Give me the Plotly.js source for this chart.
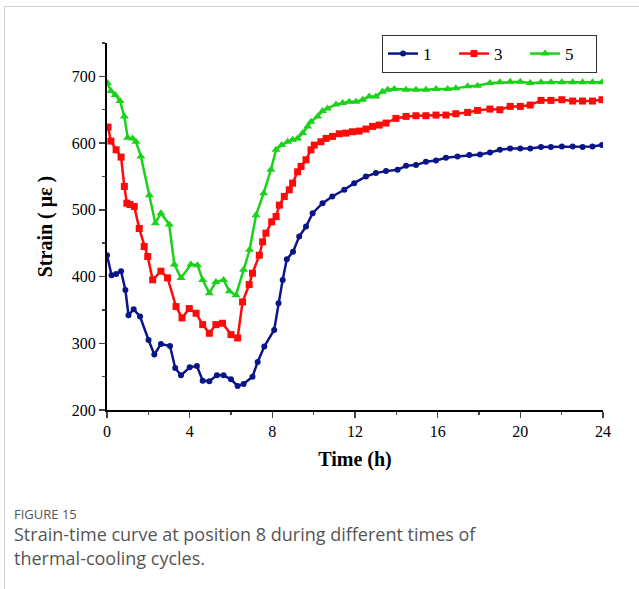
<!DOCTYPE html>
<html>
<head>
<meta charset="utf-8">
<script src="https://cdn.plot.ly/plotly-3.0.1.min.js"></script>
<style>
  html, body { margin: 0; padding: 0; background: #ffffff; }
  #frame { position: absolute; left: 4px; top: 6px; width: 640px; height: 590px;
           border-left: 1px solid #cfcfcf; border-top: 1px solid #cfcfcf; pointer-events: none; }
  #chart { position: absolute; left: 0; top: 0; width: 639px; height: 589px; }
</style>
</head>
<body>
<div id="frame"></div>
<div id="chart"></div>
<script>
// Series "1"
const time1 = [0, 0.22, 0.44, 0.68, 0.89, 1.04, 1.29, 1.6, 2.01, 2.29, 2.61, 3.05, 3.3, 3.58, 4.0, 4.35, 4.63, 4.95, 5.32, 5.64, 6.0, 6.32, 6.61, 7.04, 7.29, 7.61, 8.09, 8.3, 8.5, 8.7, 9.0, 9.3, 9.63, 9.95, 10.43, 10.9, 11.48, 11.96, 12.53, 13.01, 13.5, 14.06, 14.47, 14.95, 15.43, 15.92, 16.4, 16.96, 17.53, 18.05, 18.53, 19.01, 19.51, 20.0, 20.48, 21.0, 21.48, 22.01, 22.53, 23.01, 23.49, 23.95];
const strain1 = [432, 402, 404, 408, 380, 342, 351, 340, 305, 283, 299, 296, 263, 252, 264, 266, 244, 243, 252, 252, 246, 236, 239, 250, 272, 295, 320, 360, 395, 426, 437, 460, 475, 495, 510, 520, 530, 540, 550, 555, 558, 560, 566, 567, 572, 574, 578, 580, 582, 583, 586, 590, 592, 592, 592, 594, 594, 595, 595, 594, 595, 597];
// Series "3"
const time3 = [0.05, 0.19, 0.44, 0.68, 0.84, 0.96, 1.11, 1.32, 1.56, 1.8, 1.97, 2.21, 2.61, 2.93, 3.34, 3.63, 3.98, 4.31, 4.63, 4.95, 5.27, 5.59, 6.0, 6.32, 6.56, 6.88, 7.04, 7.37, 7.53, 7.69, 7.97, 8.18, 8.34, 8.58, 8.82, 8.98, 9.22, 9.39, 9.63, 9.87, 10.03, 10.35, 10.6, 10.91, 11.24, 11.56, 11.88, 12.2, 12.53, 12.85, 13.17, 13.5, 13.98, 14.47, 14.95, 15.43, 15.92, 16.4, 16.88, 17.45, 17.93, 18.53, 19.01, 19.51, 20.0, 20.48, 21.0, 21.48, 22.01, 22.53, 23.01, 23.49, 23.95];
const strain3 = [624, 603, 590, 579, 535, 510, 508, 505, 472, 445, 430, 395, 408, 398, 355, 338, 352, 345, 328, 315, 328, 330, 313, 308, 362, 388, 405, 432, 452, 465, 482, 490, 507, 520, 530, 540, 557, 565, 575, 590, 597, 602, 607, 610, 614, 615, 617, 618, 621, 625, 627, 630, 637, 640, 641, 641, 642, 642, 644, 646, 649, 651, 650, 655, 655, 657, 664, 664, 665, 663, 663, 663, 665];
// Series "5"
const time5 = [0.02, 0.19, 0.4, 0.63, 0.84, 1.0, 1.24, 1.4, 1.64, 2.05, 2.34, 2.61, 3.01, 3.26, 3.58, 4.06, 4.38, 4.63, 4.95, 5.27, 5.64, 5.92, 6.24, 6.61, 6.9, 7.21, 7.58, 7.93, 8.18, 8.45, 8.74, 8.98, 9.22, 9.47, 9.71, 9.87, 10.19, 10.43, 10.67, 11.08, 11.4, 11.72, 12.05, 12.37, 12.69, 13.01, 13.33, 13.58, 13.9, 14.47, 14.95, 15.43, 15.92, 16.48, 16.88, 17.45, 17.93, 18.53, 19.01, 19.51, 20.0, 20.48, 21.0, 21.48, 22.01, 22.53, 23.01, 23.49, 23.95];
const strain5 = [690, 678, 672, 663, 640, 608, 607, 602, 580, 522, 480, 495, 478, 418, 398, 418, 417, 395, 375, 392, 395, 378, 372, 410, 440, 492, 525, 560, 590, 597, 602, 605, 607, 615, 625, 632, 640, 648, 652, 658, 660, 662, 662, 665, 670, 670, 677, 680, 681, 680, 680, 680, 681, 681, 682, 685, 686, 690, 691, 692, 692, 690, 691, 691, 691, 691, 691, 691, 691];

const seriesNames = ["1", "3", "5"];
const xTickVals = [0, 4, 8, 12, 16, 20, 24];
const yTickVals = [200, 300, 400, 500, 600, 700];

const serif = "Liberation Serif, Times New Roman, serif";
const sans = "Open Sans, Noto Sans, sans-serif";

const traces = [
  {x: time1, y: strain1, name: seriesNames[0], type: "scatter", mode: "lines+markers",
   line: {color: "#0a1688", width: 2.5}, marker: {symbol: "circle", size: 6, color: "#0a1688"}},
  {x: time3, y: strain3, name: seriesNames[1], type: "scatter", mode: "lines+markers",
   line: {color: "#ff0a0a", width: 2.5}, marker: {symbol: "square", size: 7, color: "#ff0a0a"}},
  {x: time5, y: strain5, name: seriesNames[2], type: "scatter", mode: "lines+markers",
   line: {color: "#1ad21a", width: 2.5}, marker: {symbol: "triangle-up", size: 8, color: "#1ad21a"}}
];

const layout = {
  width: 639, height: 589,
  margin: {l: 107, r: 36, t: 43, b: 179},
  paper_bgcolor: "rgba(0,0,0,0)",
  plot_bgcolor: "#ffffff",
  font: {family: serif, color: "#000000", size: 16},
  showlegend: true,
  legend: {
    orientation: "h", x: 0.988, xanchor: "right", y: 0.97, yanchor: "middle",
    bordercolor: "#333333", borderwidth: 1, bgcolor: "#ffffff",
    font: {family: serif, size: 17, color: "#000000"},
    entrywidth: 26, entrywidthmode: "pixels", tracegroupgap: 0
  },
  xaxis: {
    range: [0, 24], tickvals: xTickVals, ticks: "outside", ticklen: 6, tickwidth: 1.5,
    showline: true, linewidth: 2, linecolor: "#000000", showgrid: false, zeroline: false,
    minor: {dtick: 2, ticks: "outside", ticklen: 3, tickwidth: 1.5, showgrid: false},
    tickfont: {family: serif, size: 16},
    title: {text: "<b>Time (h)</b>", font: {family: serif, size: 20}, standoff: 13},
    automargin: false
  },
  yaxis: {
    range: [200, 750], tickvals: yTickVals, ticks: "outside", ticklen: 6, tickwidth: 1.5,
    showline: true, linewidth: 2, linecolor: "#000000", showgrid: false, zeroline: false,
    minor: {dtick: 50, ticks: "outside", ticklen: 3, tickwidth: 1.5, showgrid: false},
    tickfont: {family: serif, size: 16},
    title: {text: "<b>Strain ( με )</b>", font: {family: serif, size: 20}, standoff: 14},
    automargin: false
  },
  annotations: [
    {text: "FIGURE 15", xref: "paper", yref: "paper", x: -0.191, y: -0.2834,
     xanchor: "left", yanchor: "middle", showarrow: false,
     font: {family: sans, size: 13, color: "#555555"}},
    {text: "Strain-time curve at position 8 during different times of", xref: "paper", yref: "paper",
     x: -0.191, y: -0.3379, xanchor: "left", yanchor: "middle", showarrow: false,
     font: {family: sans, size: 18, color: "#555555"}},
    {text: "thermal-cooling cycles.", xref: "paper", yref: "paper",
     x: -0.191, y: -0.4033, xanchor: "left", yanchor: "middle", showarrow: false,
     font: {family: sans, size: 18, color: "#555555"}}
  ]
};

Plotly.newPlot("chart", traces, layout, {displayModeBar: false, staticPlot: true});
</script>
</body>
</html>
